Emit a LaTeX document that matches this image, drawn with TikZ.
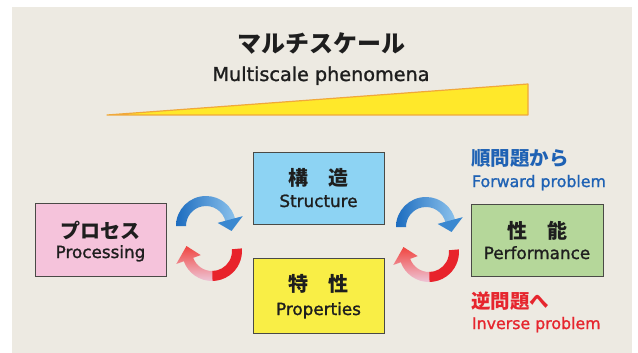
\documentclass[tikz,border=0pt]{standalone}
\usepackage{fontspec}
\setmainfont{DejaVu Sans}[FakeBold=1.3]
\newfontfamily\jp{Noto Sans CJK JP}
\definecolor{bgc}{HTML}{EDEAE2}
\definecolor{wedgey}{HTML}{FFE82A}
\definecolor{wedgeo}{HTML}{F0A83A}
\definecolor{pinkbox}{HTML}{F5C3DB}
\definecolor{bluebox}{HTML}{8DD3F3}
\definecolor{yellowbox}{HTML}{F9EE46}
\definecolor{greenbox}{HTML}{B5D79A}
\definecolor{bordc}{HTML}{4A4A46}
\definecolor{txt}{HTML}{1E1E1E}
\definecolor{fwd}{HTML}{1F62B4}
\definecolor{inv}{HTML}{E6262E}
\definecolor{blueD}{HTML}{1C6CBF}
\definecolor{blueL}{HTML}{8CC2EC}
\definecolor{blueM}{HTML}{3A88D0}
\definecolor{redR}{HTML}{E8232B}
\definecolor{redA}{HTML}{F04540}
\definecolor{pinkP}{HTML}{EEC6D8}
\newcommand\myBlueArrow[1]{%
  \begin{scope}[shift={#1}]
    \shade[left color=blueD, right color=blueL] (180:30) arc[start angle=180,end angle=12,radius=30] -- (12:20) arc[start angle=12,end angle=180,radius=20] -- cycle;
    \fill[blueM] (15:38) -- (-11:26) -- (15:12) -- cycle;
  \end{scope}}
\newcommand\myRedArrow[1]{%
  \begin{scope}[shift={#1}]
    \fill[redR] (5:30) arc[start angle=5,end angle=-90,radius=30] -- (-90:20) arc[start angle=-90,end angle=5,radius=20] -- cycle;
    \shade[top color=redA, bottom color=pinkP] (-89:30) arc[start angle=-89,end angle=-160,radius=30] -- (-160:38) -- (169:26) -- (-160:12) -- (-160:20) arc[start angle=-160,end angle=-89,radius=20] -- cycle;
  \end{scope}}
\begin{document}
\begin{tikzpicture}[x=1pt,y=1pt,
  every node/.style={inner sep=0pt, outer sep=0pt},
  boxst/.style={draw=bordc, line width=1pt, rectangle},
  jpbox/.style={font=\jp\bfseries\fontsize{20}{24}\selectfont, text=txt},
  enbox/.style={anchor=base, font=\fontsize{16.8}{20}\selectfont, text=txt}]
\useasboundingbox (0,0) rectangle (638,-353);
\fill[bgc] (12,-7) rectangle (632,-353);
% wedge
\filldraw[fill=wedgey, draw=wedgeo, line width=1.2pt, line join=round] (107,-115) -- (528,-84) -- (528,-115) -- cycle;
\node[font=\jp\bfseries\fontsize{24}{28}\selectfont, text=txt] (title) at (321,-44) {マルチスケール};
\node[anchor=base, font=\fontsize{19.2}{22}\selectfont, text=txt] (sub) at (321,-81) {Multiscale phenomena};
% boxes
\node[boxst, fill=pinkbox, minimum width=131pt, minimum height=73pt] (proc) at (100.5,-239.5) {};
\node[boxst, fill=bluebox, minimum width=131pt, minimum height=72pt] (struc) at (318.5,-188) {};
\node[boxst, fill=yellowbox, minimum width=131pt, minimum height=75pt] (prop) at (318.5,-295.5) {};
\node[boxst, fill=greenbox, minimum width=132pt, minimum height=72pt] (perf) at (537,-240) {};
% box texts
\node[jpbox] (procj) at (100.5,-231) {プロセス};
\node[enbox] (proce) at (100.5,-258) {Processing};
\node[jpbox] (strucj) at (318.5,-178) {構　造};
\node[enbox] (struce) at (318.5,-207) {Structure};
\node[jpbox] (propj) at (318.5,-284) {特　性};
\node[enbox] (prope) at (318.5,-315) {Properties};
\node[jpbox] (perfj) at (537,-231) {性　能};
\node[enbox] (perfe) at (537,-259) {Performance};
% side labels
\node[anchor=west, font=\jp\bfseries\fontsize{19.5}{23}\selectfont, text=fwd] (fwdj) at (471,-158) {順問題から};
\node[anchor=base west, font=\fontsize{15.8}{19}\selectfont, text=fwd] (fwde) at (472,-187) {Forward problem};
\node[anchor=west, font=\jp\bfseries\fontsize{19.5}{23}\selectfont, text=inv] (invj) at (471,-301) {逆問題へ};
\node[anchor=base west, font=\fontsize{15.8}{19}\selectfont, text=inv] (inve) at (472,-329) {Inverse problem};
% cycle arrows
\myBlueArrow{(206,-226)}
\myRedArrow{(212,-251)}
\myBlueArrow{(426,-227)}
\myRedArrow{(429,-252)}
\end{tikzpicture}
\end{document}
